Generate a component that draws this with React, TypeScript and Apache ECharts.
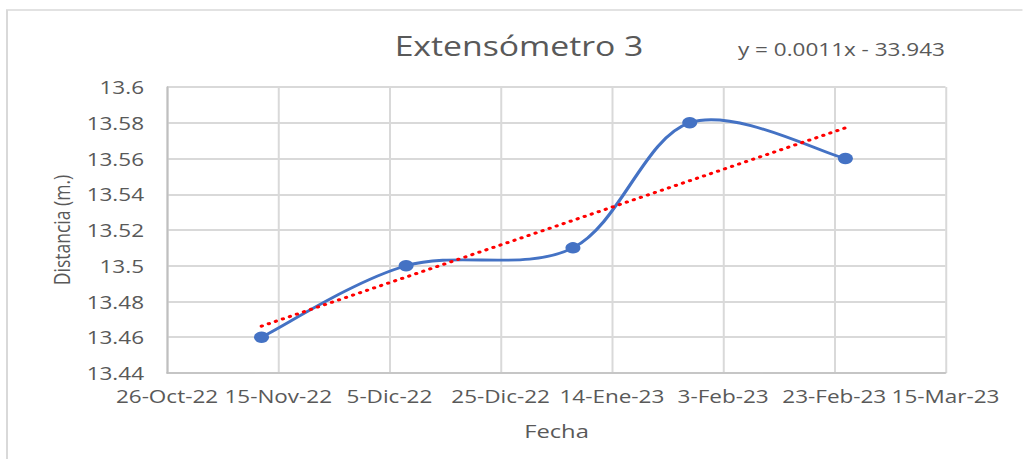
import React, { useEffect, useRef } from "react";
import * as echarts from "echarts";

// ---- data ----
const fechas: string[] = ["2022-11-12", "2022-12-08", "2023-01-07", "2023-01-28", "2023-02-25"];
const distancias: number[] = [13.46, 13.5, 13.51, 13.58, 13.56];
const mesesES: string[] = ["Ene", "Feb", "Mar", "Abr", "May", "Jun", "Jul", "Ago", "Sep", "Oct", "Nov", "Dic"];
const xMinFecha = "2022-10-26";
const xMaxFecha = "2023-03-15";
const xIntervalDias = 20;
const yMin = 13.44;
const yMax = 13.6;
const yInterval = 0.02;
const titulo = "Extensómetro 3";
const ecuacion = "y = 0.0011x - 33.943";
const nombreX = "Fecha";
const nombreY = "Distancia (m.)";

// ---- helpers ----
const EXCEL_EPOCH = Date.UTC(1899, 11, 30);
const toSerial = (iso: string): number => {
  const [y, m, d] = iso.split("-").map(Number);
  return Math.round((Date.UTC(y, m - 1, d) - EXCEL_EPOCH) / 86400000);
};
const serialLabel = (s: number): string => {
  const dt = new Date(EXCEL_EPOCH + Math.round(s) * 86400000);
  const yy = String(dt.getUTCFullYear() % 100).padStart(2, "0");
  return `${dt.getUTCDate()}-${mesesES[dt.getUTCMonth()]}-${yy}`;
};

const W = 1023;
const H = 459;
const S = 1.25; // horizontal stretch of the reference picture
const IW = W / S;

export default function App() {
  const ref = useRef<HTMLDivElement>(null);
  useEffect(() => {
    document.body.style.margin = "0";
    if (!ref.current) return;
    const chart = echarts.init(ref.current, undefined, { renderer: "svg" });

    const xs = fechas.map(toSerial);
    const pts = xs.map((x, i) => [x, distancias[i]]);
    // least-squares linear trendline
    const n = xs.length;
    const mx = xs.reduce((a, b) => a + b, 0) / n;
    const my = distancias.reduce((a, b) => a + b, 0) / n;
    let sxy = 0, sxx = 0;
    xs.forEach((x, i) => { sxy += (x - mx) * (distancias[i] - my); sxx += (x - mx) * (x - mx); });
    const slope = sxy / sxx;
    const icpt = my - slope * mx;
    const x0 = Math.min(...xs), x1 = Math.max(...xs);
    const trend = [[x0, slope * x0 + icpt], [x1, slope * x1 + icpt]];

    const font = "'Open Sans', sans-serif";
    const txt = "#595959";
    const grid = "#d9d9d9";
    const blue = "#4472C4";

    // Excel-like smoothed line (Catmull-Rom -> cubic Bezier), drawn through the axis scales
    const renderSmooth = (params: any, api: any) => {
      if (params.dataIndex !== 0) return null;
      const P = pts.map((p) => api.coord(p));
      let d = `M${P[0][0]},${P[0][1]}`;
      const k = 1 / 6;
      for (let i = 0; i < P.length - 1; i++) {
        const p0 = P[Math.max(i - 1, 0)];
        const p1 = P[i];
        const p2 = P[i + 1];
        const p3 = P[Math.min(i + 2, P.length - 1)];
        const c1x = p1[0] + (p2[0] - p0[0]) * k;
        const c1y = p1[1] + (p2[1] - p0[1]) * k;
        const c2x = p2[0] - (p3[0] - p1[0]) * k;
        const c2y = p2[1] - (p3[1] - p1[1]) * k;
        d += ` C${c1x},${c1y} ${c2x},${c2y} ${p2[0]},${p2[1]}`;
      }
      return {
        type: "path",
        shape: { pathData: d },
        style: { fill: "none", stroke: blue, lineWidth: 2.8, lineCap: "round", lineJoin: "round" },
      };
    };

    chart.setOption({
      animation: false,
      backgroundColor: "#ffffff",
      grid: { left: 167 / S, right: IW - 946 / S, top: 87, bottom: H - 373, containLabel: false },
      xAxis: {
        type: "value",
        min: toSerial(xMinFecha),
        max: toSerial(xMaxFecha),
        interval: xIntervalDias,
        axisLine: { show: true, lineStyle: { color: "#bfbfbf", width: 1.6 } },
        axisTick: { show: false },
        splitLine: { show: true, lineStyle: { color: grid, width: 1.6 } },
        axisLabel: { margin: 14, color: txt, fontSize: 18, fontFamily: font, formatter: (v: number) => serialLabel(v) },
      },
      yAxis: {
        type: "value",
        min: yMin,
        max: yMax,
        interval: yInterval,
        axisLine: { show: true, lineStyle: { color: "#bfbfbf", width: 1.6 } },
        axisTick: { show: false },
        splitLine: { show: true, lineStyle: { color: grid, width: 2 } },
        axisLabel: { margin: 23 / S, color: txt, fontSize: 18, fontFamily: font, formatter: (v: number) => String(+v.toFixed(2)) },
      },
      series: [
        {
          type: "custom",
          data: pts,
          renderItem: renderSmooth,
          encode: { x: 0, y: 1 },
          z: 2,
        },
        {
          type: "scatter",
          data: pts,
          symbol: "circle",
          symbolSize: [12, 11.5],
          itemStyle: { color: blue, opacity: 1 },
          z: 3,
        },
        {
          type: "line",
          data: trend,
          symbol: "none",
          lineStyle: { color: "#ff0000", width: 3, type: [0.5, 5.6], cap: "round" },
          z: 4,
        },
      ],
      graphic: [
        { type: "rect", shape: { x: 7 / S, y: 10, width: 2000, height: 1000 }, style: { fill: "none", stroke: grid, lineWidth: 1.6 }, silent: true, z: -1 },
        { type: "text", x: 519 / S, y: 45, style: { text: titulo, fill: txt, font: `27px ${font}`, textAlign: "center", textVerticalAlign: "middle" } },
        { type: "text", x: 738 / S, y: 48.5, style: { text: ecuacion, fill: txt, font: `18px ${font}`, textAlign: "left", textVerticalAlign: "middle" } },
        { type: "text", x: 556.5 / S, y: 430, style: { text: nombreX, fill: txt, font: `19px ${font}`, textAlign: "center", textVerticalAlign: "middle" } },
        { type: "text", x: 62 / S, y: 230, rotation: Math.PI / 2, style: { text: nombreY, fill: txt, font: `17.5px ${font}`, textAlign: "center", textVerticalAlign: "middle" } },
      ],
    });
    return () => chart.dispose();
  }, []);

  return (
    <div style={{ position: "fixed", left: 0, top: 0, width: W, height: H, overflow: "hidden", background: "#fff" }}>
      <div
        ref={ref}
        style={{ width: IW, height: H, transform: `scaleX(${S})`, transformOrigin: "0 0" }}
      />
    </div>
  );
}
